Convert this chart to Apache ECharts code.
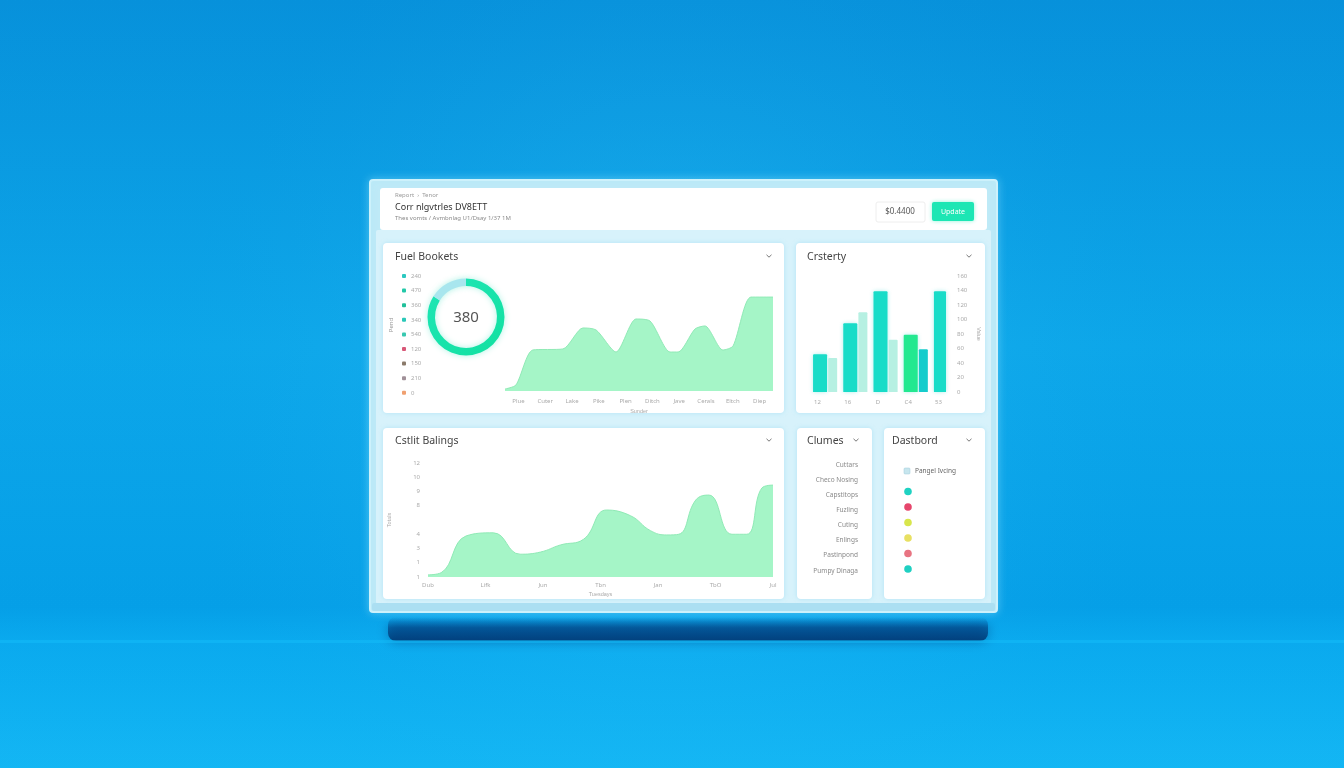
<!DOCTYPE html>
<html><head><meta charset="utf-8">
<script src="https://cdn.jsdelivr.net/npm/echarts@6/dist/echarts.min.js"></script>
<style>html,body{margin:0;padding:0;width:1344px;height:768px;overflow:hidden;background:#0a9ee0}#c{width:1344px;height:768px}</style>
</head><body><div id="c"></div><script>
// ---- data ----
const fuelCategories = ['Plue','Cuter','Lake','Pike','Plen','Ditch','Jave','Cerals','Eltch','Diep'];
const fuelX = [0,4.1,10.4,21.6,29.1,34,41.4,48.9,54.1,61.6,64.6,70.9,74.6,81.3,85.1,91.8,100];
const fuelY = [2,6,40.6,41.6,62.4,60.4,38.6,71.3,69.3,38.6,38.6,61.4,64.4,40.6,44.6,93,93];
const donutValues = [84, 16];
const donutLabel = '380';
const fuelListLabels = ['240','470','360','340','540','120','150','210','0'];
const fuelListColors = ['#2cc8c0','#22c8a8','#20c09a','#2ac8b8','#38c8b0','#d85878','#8a7a6a','#a09098','#f0a070'];
const barCategories = ['12','14','16','18','D','E','C4','C6','53'];
const barWide = [52,'-',95,'-',139,'-',79,'-',139];
const barNarrow = ['-',47,'-',110,'-',72,'-',59,'-'];
const barWideColors = ['#18dcc8','','#18dcc8','','#18dcc8','','#22e890','','#18dcc8'];
const barNarrowColors = ['','#b6f0e2','','#b6f0e2','','#b6f0e2','','#16cccc',''];
const balCategories = ['Dub','Lifk','Jun','Tbn','Jan','TbO','Jul'];
const balX = [0,3.8,11,18.9,26.7,32.6,38.4,45.1,51.7,58.7,64.5,69.2,72.7,77.6,81.4,88.1,92.4,96.8,100];
const balY = [0.3,0.6,5.75,6.2,3.2,3.5,4.5,5.3,9.4,8.6,6.5,5.9,6.0,10.8,11.5,6.0,6.0,12.5,12.9];
const balYLabels = ['1','1','3','4','','8','9','10','12'];
const clumesItems = ['Cuttars','Checo Nosing','Capstitops','Fuzling','Cuting','Enlings','Pastinpond','Pumpy Dinaga'];
const dashDotColors = ['#1fd2c2','#e6466c','#d8e64c','#e8e062','#e87482','#1fd0c2'];

// ---- layout helpers (positions only) ----
const F = '"Noto Sans", Roboto, sans-serif';
const g = [];
function rect(x,y,w,h,style,r,extra){ g.push(Object.assign({type:'rect',shape:{x,y,width:w,height:h,r:r||0},style},extra||{})); }
function text(x,y,t,size,fill,align,extra){ g.push(Object.assign({type:'text',z:10,style:{text:t,x,y,fill,font:size+'px '+F,textAlign:align||'left',textVerticalAlign:'middle'}},extra||{})); }
function chevron(x,y){ g.push({type:'polyline',z:10,shape:{points:[[x-2.5,y-1.2],[x,y+1.2],[x+2.5,y-1.2]]},style:{stroke:'#777',lineWidth:1,fill:null}}); }

// background
rect(0,0,1344,768,{fill:new echarts.graphic.LinearGradient(0,0,0,1,[{offset:0,color:'#0896dc'},{offset:0.45,color:'#0eaeec'},{offset:0.79,color:'#06a6ea'},{offset:0.835,color:'#0bb2f2'},{offset:1,color:'#16c0f8'}])});
rect(0,0,1344,768,{fill:new echarts.graphic.RadialGradient(0.5,0.5,0.65,[{offset:0,color:'rgba(70,205,255,0.28)'},{offset:1,color:'rgba(0,110,210,0.12)'}])});
// floor shadow
rect(388,617,600,24,{fill:new echarts.graphic.LinearGradient(0,0,0,1,[{offset:0,color:'rgba(0,70,140,0)'},{offset:0.45,color:'rgba(0,60,125,0.6)'},{offset:1,color:'rgba(0,50,110,0.85)'}]),shadowBlur:12,shadowColor:'rgba(0,55,120,0.6)'},8);
rect(0,640,1344,3,{fill:'rgba(20,190,250,0.5)'});
// panel
rect(370,180,627,432,{fill:'#bfeaf7',stroke:'#cdf1fb',lineWidth:2,shadowBlur:8,shadowColor:'rgba(150,230,255,0.45)'},3);
rect(376,230,615,374,{fill:'#d7f2fb'},2);
rect(372,603,623,8,{fill:'#abdff2'},2);
rect(380,188,607,42,{fill:'#ffffff'},3);
// header
text(395,195,'Report  ›  Tenor',6,'#9a9a9a');
text(395,207,'Corr nlgvtrles DV8ETT',9,'#333333');
text(395,218,'Thes vomts / Avmbnlag U1/Dsay 1/37 1M',6,'#8a8a8a');
rect(876,202,49,20,{fill:'#ffffff',stroke:'#eeeeee',lineWidth:1},2);
text(900,212,'$0.4400',8,'#555555','center');
rect(932,202,42,19,{fill:'#1de6b4',shadowBlur:4,shadowColor:'rgba(30,230,180,0.5)'},2);
text(953,211.5,'Update',7,'#ffffff','center');
// cards
const cardStyle = {fill:'#ffffff',shadowBlur:5,shadowColor:'rgba(110,200,235,0.35)'};
rect(383,243,401,170,cardStyle,4);
rect(796,243,189,170,cardStyle,4);
rect(383,428,401,171,cardStyle,4);
rect(797,428,75,171,cardStyle,4);
rect(884,428,101,171,cardStyle,4);
text(395,257,'Fuel Bookets',10.5,'#444444');
chevron(769,256);
text(807,257,'Crsterty',10.5,'#444444');
chevron(969,256);
text(395,441,'Cstlit Balings',10.5,'#444444');
chevron(769,440);
text(807,441,'Clumes',10.5,'#444444');
chevron(856,440);
text(892,441,'Dastbord',10.5,'#444444');
chevron(969,440);
// card 1 list
const listY0 = 276, listDy = 14.6;
fuelListLabels.forEach((l,i)=>{
  const y = listY0 + i*listDy;
  rect(402,y-2,4,4,{fill:fuelListColors[i]},1);
  text(411,y,l,6,'#aaaaaa');
});
text(391,325,'Pend',6,'#999999','center',{rotation:Math.PI/2,x:0,y:0,originX:391,originY:325});
text(466,318,donutLabel,15,'#555555','center');
// card 4 list
clumesItems.forEach((t,i)=>text(858,465+i*15.1,t,6.5,'#8a8a8a','right'));
// card 5
rect(904,468,6,6,{fill:'#c7e6ee',stroke:'#9fcbd8',lineWidth:0.5},1);
text(915,471,'Pangel Ivcing',6.5,'#666666');
dashDotColors.forEach((c,i)=>g.push({type:'circle',z:10,shape:{cx:908,cy:491.5+i*15.5,r:3.8},style:{fill:c}}));

const axisLbl = {fontSize:6,color:'#aaaaaa',fontFamily:F};
const option = {
  backgroundColor:'#0a9ee0',
  animation:false,
  graphic:{elements:g},
  grid:[
    {left:505,right:1344-773,top:290,bottom:768-391},
    {left:810,right:1344-946,top:276,bottom:768-392},
    {left:428,right:1344-773,top:463,bottom:768-577}
  ],
  xAxis:[
    {type:'category',gridIndex:0,data:fuelCategories,boundaryGap:true,axisLine:{show:false},axisTick:{show:false},axisLabel:Object.assign({margin:7},axisLbl),name:'Sunder',nameLocation:'middle',nameGap:17,nameTextStyle:{fontSize:5.5,color:'#aaaaaa'}},
    {type:'value',gridIndex:0,min:0,max:100,show:false},
    {type:'category',gridIndex:1,data:barCategories,axisLine:{show:false},axisTick:{show:false},axisLabel:Object.assign({margin:7,interval:1},axisLbl)},
    {type:'category',gridIndex:2,data:balCategories,boundaryGap:false,axisLine:{show:false},axisTick:{show:false},axisLabel:Object.assign({margin:5},axisLbl),name:'Tuesdays',nameLocation:'middle',nameGap:14,nameTextStyle:{fontSize:5.5,color:'#aaaaaa'}},
    {type:'value',gridIndex:2,min:0,max:100,show:false}
  ],
  yAxis:[
    {type:'value',gridIndex:0,min:0,max:100,show:false},
    {type:'value',gridIndex:1,position:'right',min:0,max:160,interval:20,axisLine:{show:false},axisTick:{show:false},splitLine:{show:false},axisLabel:Object.assign({margin:11},axisLbl),name:'Value',nameLocation:'middle',nameGap:30,nameRotate:-90,nameTextStyle:{fontSize:5.5,color:'#aaaaaa'}},
    {type:'value',gridIndex:2,min:0,max:16,interval:2,axisLine:{show:false},axisTick:{show:false},splitLine:{show:false},axisLabel:Object.assign({margin:8,formatter:v=>balYLabels[Math.round(v/2)]},axisLbl),name:'Totals',nameLocation:'middle',nameGap:36,nameTextStyle:{fontSize:5.5,color:'#aaaaaa'}}
  ],
  series:[
    {type:'line',xAxisIndex:1,yAxisIndex:0,data:fuelX.map((x,i)=>[x,fuelY[i]]),smooth:0.25,showSymbol:false,lineStyle:{color:'#90eab6',width:1},areaStyle:{color:'#a5f5c7',opacity:1},silent:true},
    {type:'pie',center:[466,317],radius:[31,38.5],startAngle:90,clockwise:true,label:{show:false},labelLine:{show:false},silent:true,
      data:donutValues.map((v,i)=>({value:v,itemStyle:{color:i===0?new echarts.graphic.LinearGradient(0,0,1,1,[{offset:0,color:'#1ee6b6'},{offset:1,color:'#12e0a0'}]):'#a8e6ee'}})),
      itemStyle:{shadowBlur:6,shadowColor:'rgba(30,220,180,0.35)'}},
    {type:'bar',xAxisIndex:2,yAxisIndex:1,barWidth:14,barGap:'-100%',silent:true,
      data:barWide.map((v,i)=>v==='-'?'-':{value:v,itemStyle:{color:barWideColors[i]}}),
      itemStyle:{borderRadius:[1,1,0,0],shadowBlur:4,shadowColor:'rgba(20,210,200,0.35)'}},
    {type:'bar',xAxisIndex:2,yAxisIndex:1,barWidth:9,barGap:'-100%',silent:true,
      data:barNarrow.map((v,i)=>v==='-'?'-':{value:v,itemStyle:{color:barNarrowColors[i]}}),
      itemStyle:{borderRadius:[1,1,0,0]}},
    {type:'line',xAxisIndex:4,yAxisIndex:2,data:balX.map((x,i)=>[x,balY[i]]),smooth:0.45,showSymbol:false,lineStyle:{color:'#90eab6',width:1},areaStyle:{color:'#a5f5c7',opacity:1},silent:true}
  ]
};
const chart = echarts.init(document.getElementById('c'),null,{renderer:'canvas',width:1344,height:768});
chart.setOption(option);
</script></body></html>
